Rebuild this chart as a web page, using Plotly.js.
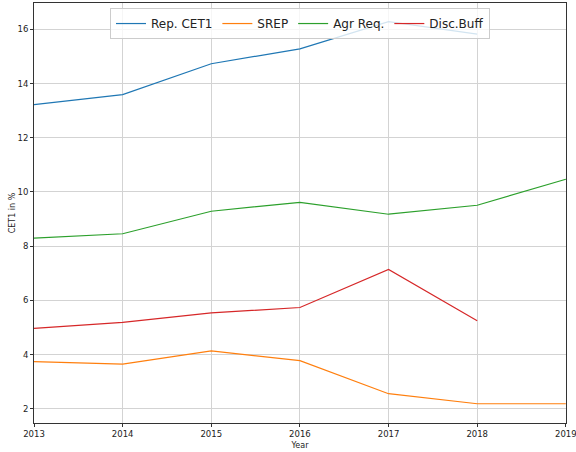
<!DOCTYPE html>
<html><head><meta charset="utf-8">
<script src="https://cdn.plot.ly/plotly-3.0.1.min.js"></script>
<style>body{margin:0;padding:0;}#chart{width:576px;height:452px;}</style>
</head><body><div id="chart"></div>
<script>
const years = [2013, 2014, 2015, 2016, 2017, 2018, 2019];
const repCET1 = [13.22, 13.59, 14.73, 15.28, 16.28, 15.82];
const srep = [3.74, 3.65, 4.14, 3.78, 2.56, 2.19, 2.19];
const agrReq = [8.30, 8.46, 9.29, 9.62, 9.18, 9.51, 10.47];
const discBuff = [4.97, 5.19, 5.54, 5.74, 7.14, 5.25];
const names = ["Rep. CET1", "SREP", "Agr Req.", "Disc.Buff"];
const colors = ["#1f77b4", "#ff7f0e", "#2ca02c", "#d62728"];
const series = [repCET1, srep, agrReq, discBuff];

const traces = series.map((s, i) => ({
  x: years.slice(0, s.length), y: s, name: names[i], type: 'scatter', mode: 'lines',
  line: {color: colors[i], width: 1.2}
}));

const axCommon = {
  showline: true, mirror: true, linecolor: '#333', linewidth: 1,
  showgrid: true, gridcolor: '#d3d3d3', gridwidth: 1, zeroline: false,
  ticks: 'outside', ticklen: 3, tickcolor: '#333',
  tickfont: {size: 8.5, color: '#222', family: 'DejaVu Sans'}
};

const layout = {
  width: 576, height: 452,
  margin: {l: 34, r: 10, t: 3, b: 29},
  paper_bgcolor: 'white', plot_bgcolor: 'white',
  font: {family: 'DejaVu Sans', color: '#222'},
  xaxis: Object.assign({}, axCommon, {
    range: [2013, 2019.002], tickvals: years, ticktext: years.map(String),
    ticklabeloverflow: 'allow',
    title: {text: 'Year', font: {size: 8}, standoff: 4}
  }),
  yaxis: Object.assign({}, axCommon, {
    range: [1.48, 16.97], tickvals: [2, 4, 6, 8, 10, 12, 14, 16],
    title: {text: 'CET1 in %', font: {size: 8}, standoff: 0}
  }),
  legend: {
    orientation: 'h', x: 0.5, xanchor: 'center', y: 0.988, yanchor: 'top',
    bgcolor: 'rgba(255,255,255,0.8)', bordercolor: '#ccc', borderwidth: 1,
    font: {size: 12, color: '#222'}, itemwidth: 30
  },
  showlegend: true
};

Plotly.newPlot('chart', traces, layout, {displayModeBar: false, staticPlot: true});
</script></body></html>
